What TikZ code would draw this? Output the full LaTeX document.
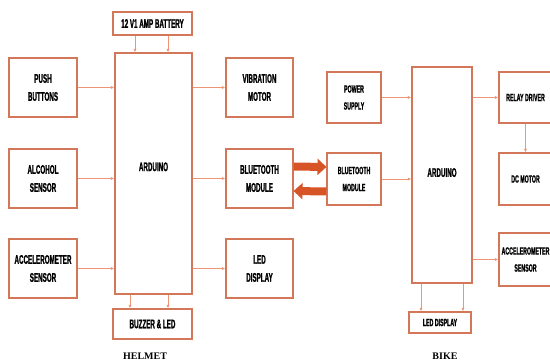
\documentclass[tikz,border=0pt]{standalone}
\usepackage{fontspec}
\usepackage{tikz}
\usetikzlibrary{arrows.meta,positioning,calc}
\setmainfont{Liberation Serif}
\newfontfamily\blockfont[FakeStretch=0.5,FakeBold=1.2]{Liberation Sans}
\definecolor{edge}{RGB}{212,118,88}
\definecolor{wirec}{RGB}{236,150,118}
\definecolor{linkc}{RGB}{215,84,38}

\begin{document}
\begin{tikzpicture}[x=1pt,y=-1pt,>={Latex[length=3.5pt,width=3pt]},
  blk/.style={draw=edge,line width=1.1pt,align=center,inner sep=1pt,font=\blockfont\bfseries\fontsize{12.5}{18}\selectfont},
  bikefont/.style={font=\blockfont\bfseries\fontsize{10.5}{17}\selectfont},
  side/.style={blk,minimum width=68pt,minimum height=59pt},
  wire/.style={->,draw=wirec,line width=0.7pt},
  link/.style={-{Triangle[length=9pt,width=16pt]},draw=linkc,line width=8pt},
  tag/.style={font=\bfseries\fontsize{10}{12}\selectfont}]
\useasboundingbox (0,0) rectangle (550,363);
% helmet side
\node[blk,minimum width=79pt,minimum height=23pt] (battery) at (152.5,23.5) {12 V1 AMP BATTERY};
\node[blk,minimum width=77pt,minimum height=241pt] (ardH) at (153.5,173.5) {\raisebox{13.5pt}{ARDUINO}};
\node[side] (push) at (43,87.5) {PUSH\\BUTTONS};
\node[side] (alcohol) at (43,178.5) {ALCOHOL\\SENSOR};
\node[side] (accH) at (43,268.5) {ACCELEROMETER\\SENSOR};
\node[side,minimum width=67pt] (vib) at (259.5,87.5) {VIBRATION\\MOTOR};
\node[side,minimum width=67pt] (btH) at (259.5,178.5) {BLUETOOTH\\MODULE};
\node[side,minimum width=67pt] (led) at (259.5,268.5) {LED\\DISPLAY};
\node[blk,minimum width=79pt,minimum height=30pt] (buzz) at (152.5,324) {BUZZER \& LED};
\node[tag] (helmet) at (145,356) {HELMET};
\draw[wire] ([xshift=-17.5pt]battery.south) -- ([xshift=-17.5pt]battery.south |- ardH.north);
\draw[wire] ([xshift=15.5pt]battery.south) -- ([xshift=15.5pt]battery.south |- ardH.north);
\draw[wire] (push.east) -- (push.east -| ardH.west);
\draw[wire] (alcohol.east) -- (alcohol.east -| ardH.west);
\draw[wire] (accH.east) -- (accH.east -| ardH.west);
\draw[wire] (vib.west -| ardH.east) -- (vib.west);
\draw[wire] (btH.west -| ardH.east) -- (btH.west);
\draw[wire] (led.west -| ardH.east) -- (led.west);
\draw[wire] ([xshift=-23.5pt]ardH.south) -- ([xshift=-23.5pt]ardH.south |- buzz.north);
\draw[wire] ([xshift=14.5pt]ardH.south) -- ([xshift=14.5pt]ardH.south |- buzz.north);
% bike side
\node[blk,bikefont,minimum width=54pt,minimum height=51pt] (power) at (354,97.5) {POWER\\SUPPLY};
\node[blk,bikefont,minimum width=54pt,minimum height=52pt] (btB) at (354,179) {BLUETOOTH\\MODULE};
\node[blk,minimum width=60pt,minimum height=216pt] (ardB) at (442,175) {\raisebox{5pt}{ARDUINO}};
\node[blk,bikefont,minimum width=53pt,minimum height=51pt] (relay) at (525.5,97.5) {RELAY DRIVER};
\node[blk,bikefont,minimum width=53pt,minimum height=52pt] (dc) at (525.5,179) {DC MOTOR};
\node[blk,bikefont,minimum width=53pt,minimum height=53pt] (accB) at (525.5,259.5) {ACCELEROMETER\\SENSOR};
\node[blk,bikefont,minimum width=62pt,minimum height=21pt] (ledB) at (440,322.5) {LED DISPLAY};
\node[tag] (bike) at (445,356) {BIKE};
\draw[wire] (power.east) -- (power.east -| ardB.west);
\draw[wire] (btB.east) -- (btB.east -| ardB.west);
\draw[wire] (ardB.east |- relay) -- (relay.west);
\draw[wire] (relay.south) -- (dc.north);
\draw[wire] (ardB.east |- accB) -- (accB.west);
\draw[wire] ([xshift=-21pt]ardB.south) -- ([xshift=-21pt]ardB.south |- ledB.north);
\draw[wire] ([xshift=21pt]ardB.south) -- ([xshift=21pt]ardB.south |- ledB.north);
% wireless link
\draw[link] ([yshift=12pt]btH.east) -- ([yshift=12pt]btB.west);
\draw[link] ([yshift=-12.5pt]btB.west) -- ([yshift=-12.5pt]btH.east);
\end{tikzpicture}
\end{document}
